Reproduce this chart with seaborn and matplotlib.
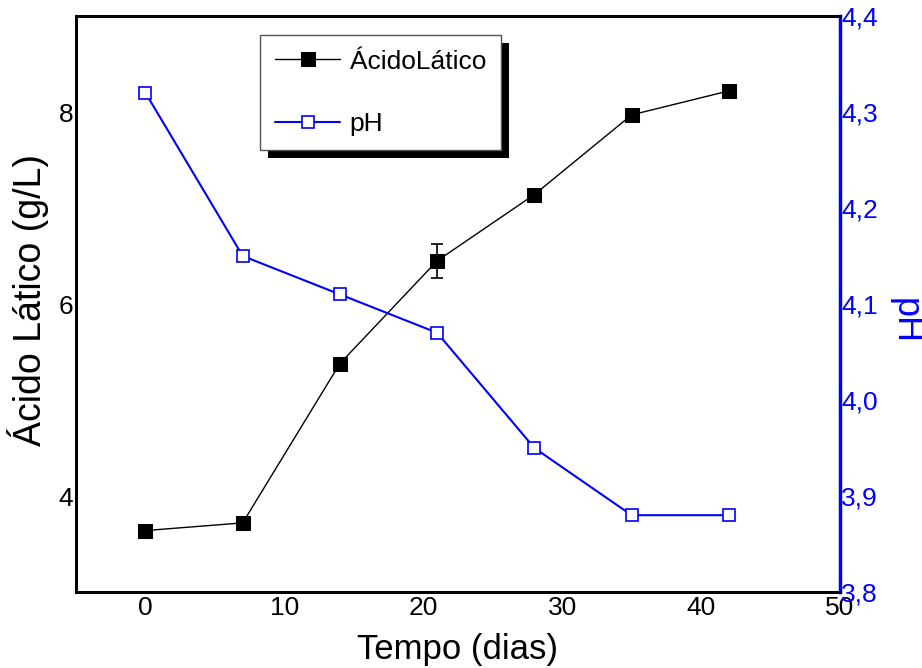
import matplotlib
matplotlib.use("Agg")
import matplotlib.pyplot as plt
import seaborn as sns
import pandas as pd
from matplotlib.patches import Rectangle
from matplotlib.ticker import FuncFormatter

days = [0, 7, 14, 21, 28, 35, 42]
acido = [3.64, 3.72, 5.38, 6.45, 7.14, 7.97, 8.22]
acido_err = [0.0, 0.0, 0.0, 0.18, 0.0, 0.0, 0.0]
ph = [4.32, 4.15, 4.11, 4.07, 3.95, 3.88, 3.88]

sns.set_style("white")
plt.rcParams['font.family'] = ['Liberation Sans', 'DejaVu Sans']
plt.rcParams['text.color'] = 'black'
plt.rcParams['axes.labelcolor'] = 'black'

df = pd.DataFrame({"Tempo": days, "Acido": acido, "pH": ph})

fig = plt.figure(figsize=(9.22, 6.68), dpi=100)
ax = fig.add_axes([76/922, 1-592/668, (840-76)/922, (592-16)/668])
ax2 = ax.twinx()

sns.lineplot(data=df, x="Tempo", y="Acido", ax=ax, color="black", lw=1.0,
             marker="s", markersize=10, markerfacecolor="black",
             markeredgecolor="black", label="ÁcidoLático", legend=False)
ax.errorbar(days, acido, yerr=acido_err, fmt="none", ecolor="black",
            elinewidth=1.2, capsize=4.5, capthick=1.2)
sns.lineplot(data=df, x="Tempo", y="pH", ax=ax2, color="blue", lw=1.5,
             marker="s", markersize=9, markerfacecolor="white",
             markeredgecolor="blue", markeredgewidth=1.2, label="pH", legend=False)

ax.set_xlim(-5, 50)
ax.set_ylim(3, 9)
ax2.set_ylim(3.8, 4.4)
ax.set_xticks([0, 10, 20, 30, 40, 50])
ax.set_yticks([4, 6, 8])
ax2.set_yticks([3.8, 3.9, 4.0, 4.1, 4.2, 4.3, 4.4])
ax2.yaxis.set_major_formatter(FuncFormatter(lambda v, p: f"{v:.1f}".replace(".", ",")))

ax.set_xlabel("Tempo (dias)", fontsize=25, va="center", color="black")
ax.set_ylabel("Ácido Lático (g/L)", fontsize=27, va="center", color="black")
ax2.set_ylabel("pH", fontsize=26, color="blue", rotation=270, va="center")
ax.xaxis.set_label_coords(0.499, -0.10)
ax.yaxis.set_label_coords(-0.063, 0.507)
ax2.yaxis.set_label_coords(1.085, 0.47)

ax.tick_params(axis="x", labelsize=19, length=0, pad=3, colors="black")
ax.tick_params(axis="y", labelsize=19, length=0, pad=2, colors="black")
ax2.tick_params(axis="y", labelsize=19, length=0, pad=1, colors="blue")

for s in ["left", "bottom", "top"]:
    ax.spines[s].set_linewidth(2)
    ax.spines[s].set_color("black")
    ax2.spines[s].set_linewidth(2)
    ax2.spines[s].set_color("black")
ax2.spines["right"].set_linewidth(2.5)
ax2.spines["right"].set_color("blue")
ax.spines["right"].set_visible(False)
ax.grid(False)
ax2.grid(False)

h1, l1 = ax.get_legend_handles_labels()
h2, l2 = ax2.get_legend_handles_labels()
leg = ax2.legend(h1 + h2, l1 + l2, loc="upper left",
                 bbox_to_anchor=((260-76)/764, 1-(35-16)/576),
                 fontsize=19, frameon=True, fancybox=False, framealpha=1,
                 edgecolor="#555555", handlelength=2.5, labelspacing=1.45,
                 borderpad=0.55, handletextpad=0.35, borderaxespad=0,
                 labelcolor="black")
leg.get_frame().set_linewidth(1.0)
leg.set_zorder(10)

fig.canvas.draw()
bb = leg.get_frame().get_window_extent(fig.canvas.get_renderer())
off = 8
shadow = Rectangle(((bb.x0 + off) / fig.bbox.width, (bb.y0 - off) / fig.bbox.height),
                   bb.width / fig.bbox.width, bb.height / fig.bbox.height,
                   transform=fig.transFigure, facecolor="black", edgecolor="none",
                   zorder=9)
ax2.add_artist(shadow)
shadow.set_clip_on(False)

fig.savefig("out.png", dpi=100)
